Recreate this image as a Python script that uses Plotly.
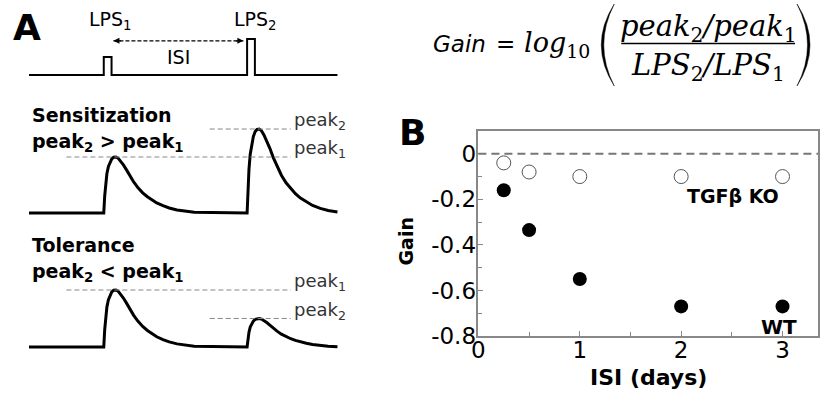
import plotly.graph_objects as go

# ---------------- Panel B data ----------------
isi_days = [0.25, 0.5, 1, 2, 3]
gain_wt = [-0.16, -0.335, -0.55, -0.67, -0.67]
gain_ko = [-0.04, -0.08, -0.10, -0.10, -0.10]
x_tickvals = [0, 1, 2, 3]
x_ticktext = ["0", "1", "2", "3"]
y_tickvals = [-0.8, -0.6, -0.4, -0.2, 0]
y_ticktext = ["-0.8", "-0.6", "-0.4", "-0.2", "0"]

# ---------------- Panel A schematic data ----------------
stim_onsets = [24, 70]          # arbitrary time units
stim_width = 2.5
lps_dose = [1, 2]
t_end = 99
shape_t = [0, 0.3, 0.6, 1.0, 1.5, 2.0, 2.6, 3.2, 3.9, 4.6, 5.4, 6.3, 7.3, 8.4,
           9.6, 11, 12.5, 14, 15.5, 17, 19, 21, 23.5, 26, 29]
shape_y = [0, 0.3, 0.52, 0.7, 0.83, 0.91, 0.97, 0.995, 1.0, 0.98, 0.93, 0.86,
           0.77, 0.66, 0.555, 0.45, 0.36, 0.29, 0.23, 0.18, 0.13, 0.09, 0.055,
           0.03, 0.012]
sens_peaks = [1.0, 1.5]
tol_peaks = [1.0, 0.5]

# layout positions below are expressed on an 820 x 394 grid
W, H = 820, 394
FIG_H = 407   # the captured page is slightly taller than the photo
X0, XW = 6, 814


def px(x):
    return (x - X0) / XW


def py(y):
    return 1 - y / H


def stimulus():
    xs, ys = [0], [0]
    for on, d in zip(stim_onsets, lps_dose):
        xs += [on, on, on + stim_width, on + stim_width]
        ys += [0, d, d, 0]
    xs.append(t_end)
    ys.append(0)
    return xs, ys


def response(peaks):
    xs, ys = [0], [0]
    for i, (on, p) in enumerate(zip(stim_onsets, peaks)):
        nxt = stim_onsets[i + 1] if i + 1 < len(stim_onsets) else t_end
        for dt, v in zip(shape_t, shape_y):
            t = on + dt
            if t > nxt:
                break
            xs.append(t)
            ys.append(p * v)
    xs.append(t_end)
    ys.append(ys[-1])
    return xs, ys


fig = go.Figure()

# Panel A traces
sx, sy = stimulus()
fig.add_trace(go.Scatter(x=sx, y=sy, mode="lines", xaxis="x2", yaxis="y2",
                         line=dict(color="black", width=2), hoverinfo="skip"))
rx, ry = response(sens_peaks)
fig.add_trace(go.Scatter(x=rx, y=ry, mode="lines", xaxis="x3", yaxis="y3",
                         line=dict(color="black", width=3), hoverinfo="skip"))
rx, ry = response(tol_peaks)
fig.add_trace(go.Scatter(x=rx, y=ry, mode="lines", xaxis="x4", yaxis="y4",
                         line=dict(color="black", width=3), hoverinfo="skip"))

# ISI dashed arrow
arrow_y = 1.9
a0 = stim_onsets[0] + stim_width + 0.6
a1 = stim_onsets[1] - 1.2
fig.add_trace(go.Scatter(x=[a0, a1], y=[arrow_y, arrow_y], mode="lines",
                         xaxis="x2", yaxis="y2",
                         line=dict(color="black", width=1.2, dash="4px,2px"),
                         hoverinfo="skip"))

# Panel B traces
fig.add_trace(go.Scatter(x=isi_days, y=gain_ko, mode="markers",
                         marker=dict(symbol="circle", size=14, color="white",
                                     line=dict(color="#555", width=1)),
                         hoverinfo="skip"))
fig.add_trace(go.Scatter(x=isi_days, y=gain_wt, mode="markers",
                         marker=dict(symbol="circle", size=14, color="black",
                                     line=dict(color="black", width=0)),
                         hoverinfo="skip"))

FONT = "DejaVu Sans"
ann = []
shapes = []


def text(x, y, s, size, bold=False, italic=False, xanchor="center",
         yanchor="middle", family=FONT, color="black", xref="paper",
         yref="paper", yshift=0, angle=0):
    if bold:
        s = "<b>" + s + "</b>"
    if italic:
        s = "<i>" + s + "</i>"
    ann.append(dict(x=x, y=y, xref=xref, yref=yref, text=s, showarrow=False,
                    xanchor=xanchor, yanchor=yanchor, yshift=yshift,
                    textangle=angle,
                    font=dict(family=family, size=size, color=color)))


# Panel labels
text(px(26), py(27), "A", 36, bold=True)
text(px(412), py(132), "B", 36, bold=True)

# Stimulus labels
text(stim_onsets[0] + stim_width / 2 + 1, py(21), "LPS<sub>1</sub>", 19,
     xref="x2")
text(stim_onsets[1] + stim_width / 2 + 1.5, py(21), "LPS<sub>2</sub>", 19,
     xref="x2")
text((a0 + a1) / 2, arrow_y, "ISI", 19, xref="x2", yref="y2", yshift=-16)
for xh, axp in [(a0, 9), (a1, -9)]:
    ann.append(dict(x=xh, y=arrow_y, xref="x2", yref="y2", text="",
                    showarrow=True, ax=axp, ay=0, arrowhead=2, arrowsize=1,
                    arrowwidth=1.2, arrowcolor="black", standoff=0))

# Headers
text(px(29), py(115), "Sensitization", 19, bold=True, xanchor="left")
text(px(29), py(142), "peak<sub>2</sub> &gt; peak<sub>1</sub>", 19, bold=True,
     xanchor="left")
text(px(29), py(245), "Tolerance", 19, bold=True, xanchor="left")
text(px(29), py(272), "peak<sub>2</sub> &lt; peak<sub>1</sub>", 19, bold=True,
     xanchor="left")

# Peak reference lines and labels
line_starts = [12, 58]
line_end = 84
for xa, ya, peaks in [("x3", "y3", sens_peaks), ("x4", "y4", tol_peaks)]:
    for i, p in enumerate(peaks):
        shapes.append(dict(type="line", xref=xa, yref=ya, x0=line_starts[i],
                           x1=line_end, y0=p, y1=p,
                           line=dict(color="#888", width=1.2, dash="5px,3px")))
        text(line_end + 0.3, p, "peak<sub>%d</sub>" % (i + 1), 18,
             xanchor="left", xref=xa, yref=ya, yshift=8, color="#333")

# Formula
text(px(431), py(44), "Gain", 23, italic=True, xanchor="left")
text(px(505), py(44), "=", 23)
text(px(522), py(45), "<i>log</i><sub>10</sub>", 27, xanchor="left",
     family="DejaVu Serif")
text(px(708), py(28), "<i>peak</i><sub>2</sub><i>/peak</i><sub>1</sub>", 29,
     family="DejaVu Serif")
text(px(708), py(67), "<i>LPS</i><sub>2</sub><i>/LPS</i><sub>1</sub>", 29,
     family="DejaVu Serif")
shapes.append(dict(type="line", xref="paper", yref="paper", x0=px(621),
                   x1=px(795), y0=py(43.5), y1=py(43.5),
                   line=dict(color="black", width=1.5)))


def paren(xe, outer_c, inner_c, top=4, bot=86):
    mid = (top + bot) / 2
    return ("M %f,%f Q %f,%f %f,%f Q %f,%f %f,%f Z" % (
        px(xe), py(top), px(outer_c), py(mid), px(xe), py(bot),
        px(inner_c), py(mid), px(xe), py(top)))


shapes.append(dict(type="path", xref="paper", yref="paper",
                   path=paren(614, 588, 593), fillcolor="black",
                   line=dict(color="black", width=0.5)))
shapes.append(dict(type="path", xref="paper", yref="paper",
                   path=paren(797, 823, 818), fillcolor="black",
                   line=dict(color="black", width=0.5)))

# Panel B annotations
text(px(733), py(196), "TGFβ KO", 19, bold=True)
text(px(779), py(327), "WT", 20, bold=True)
text(px(648), py(377), "ISI (days)", 22, bold=True)
text(px(405), py(242), "Gain", 19, bold=True, angle=-90)

# zero line
shapes.append(dict(type="line", xref="paper", yref="y", x0=px(478), x1=px(818),
                   y0=0, y1=0, line=dict(color="#777", width=2, dash="8px,5px")))

hidden = dict(visible=False, showgrid=False, zeroline=False)
fig.update_layout(
    width=W, height=FIG_H, margin=dict(l=0, r=0, t=0, b=0),
    paper_bgcolor="white", plot_bgcolor="rgba(0,0,0,0)", showlegend=False,
    font=dict(family=FONT, color="black"),
    xaxis=dict(domain=[px(478), px(818)], range=[0, 3.35], anchor="y",
               tickvals=x_tickvals, ticktext=x_ticktext,
               ticks="inside", ticklen=5, tickcolor="#888",
               ticklabelstandoff=-7,
               minor=dict(dtick=0.5, tick0=0, ticks="inside", ticklen=4,
                          tickcolor="#888", showgrid=False),
               showline=True, linecolor="#888", linewidth=1.5, mirror=True,
               showgrid=False, zeroline=False,
               tickfont=dict(family=FONT, size=23, color="black")),
    yaxis=dict(domain=[py(336), py(131)], range=[-0.8, 0.1], anchor="x",
               tickvals=y_tickvals, ticktext=y_ticktext,
               ticks="inside", ticklen=5, tickcolor="#888",
               ticklabelstandoff=-4,
               minor=dict(dtick=0.1, tick0=0, ticks="inside", ticklen=4,
                          tickcolor="#888", showgrid=False),
               showline=True, linecolor="#888", linewidth=1.5, mirror=True,
               showgrid=False, zeroline=False,
               tickfont=dict(family=FONT, size=23, color="black")),
    xaxis2=dict(domain=[px(28), px(340)], range=[0, 100], anchor="y2", **hidden),
    yaxis2=dict(domain=[py(84), py(30)], range=[-0.5, 2.5], anchor="x2", **hidden),
    xaxis3=dict(domain=[px(28), px(340)], range=[0, 100], anchor="y3", **hidden),
    yaxis3=dict(domain=[py(218.6), py(123.4)], range=[-0.1, 1.6], anchor="x3",
                **hidden),
    xaxis4=dict(domain=[px(28), px(340)], range=[0, 100], anchor="y4", **hidden),
    yaxis4=dict(domain=[py(352.7), py(284.3)], range=[-0.1, 1.1], anchor="x4",
                **hidden),
    annotations=ann, shapes=shapes,
)

# remove the page's default body margin so the figure fills the window
fig.write_html("out.html", config={"displayModeBar": False},
               post_script="document.body.style.margin='0';"
                           "document.body.style.overflow='hidden';")
